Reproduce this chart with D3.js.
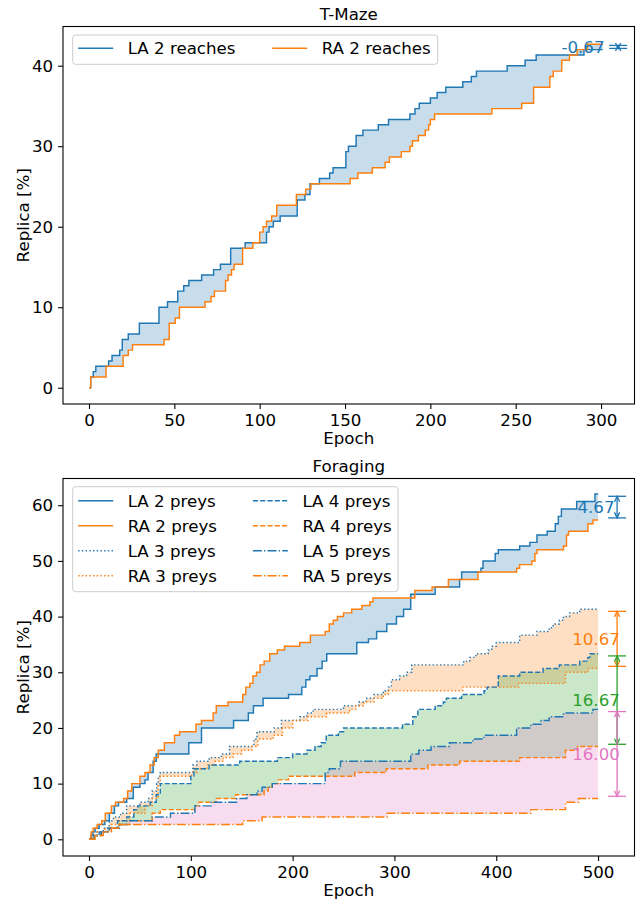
<!DOCTYPE html>
<html>
<head>
<meta charset="utf-8">
<script src="https://cdn.jsdelivr.net/npm/d3@7"></script>
<style>
  body { margin: 0; background: #fff; }
  svg text { font-family: "DejaVu Sans", sans-serif; font-size: 16.67px; fill: #000; }
</style>
</head>
<body>
<script>
// step breakpoints: [epoch, replica %]
var tmazeLA2 = [[0,0],[1,1.33],[2.5,2],[4,2.67],[11.5,3.33],[13.5,4],[18,4.67],[19.5,6],[23,6.67],[29.5,8],[41,10],[46,10.67],[52,12],[55.5,12.67],[58.5,13.33],[66,14],[73,14.67],[77,15.33],[83,17.33],[91.5,18],[104,19.33],[105.5,20],[108,20.67],[112,21.33],[122,23.33],[126.5,24],[129.5,25.33],[135,26],[141,26.67],[143,27.33],[150.5,29.33],[152,30],[156.5,31.33],[160.5,32],[169.5,32.67],[175.5,33.33],[188,34],[191,34.67],[193.5,35.33],[200,36],[204,36.67],[209,37.33],[219,38],[224,38.67],[227,39.33],[245,40],[255.5,40.67],[262,41.33],[290,42]];
var tmazeRA2 = [[0,0],[1,1.33],[10,2.67],[20,4],[23,4.67],[25.5,5.33],[44,6],[47,8],[50.5,8.67],[53,10],[68,10.67],[71.5,11.33],[73.5,12],[80,13.33],[81.5,14],[83.5,14.67],[85,15.33],[90,17.33],[96,18],[100,19.33],[102,20],[104,20.67],[107,21.33],[110,22.67],[121.5,24],[127,24.67],[130,25.33],[153,26],[157.5,26.67],[166,27.33],[173.5,28],[176,28.67],[183,29.33],[188,30],[189.5,30.67],[193,31.33],[197,32],[199,32.67],[200,33.33],[202.5,34],[236,34.67],[253.5,35.33],[260.5,37.33],[270,38.67],[272,39.33],[277,40.67],[281.5,41.33],[286,42],[292,42.67]];
var tmazeEnd = 301;

var forLA2 = [[0,0],[2,0.67],[4,1.33],[6,2],[10,2.67],[15.5,3.33],[20,4.67],[25,6],[29,6.67],[37,7.33],[43.5,9.33],[50,10],[55,10.67],[58,12],[63,14],[66,15.33],[98,17.33],[110.5,20],[142,21.33],[156.5,22.67],[161.5,24],[171,25.33],[196,26],[209,27.33],[213,28.67],[217,29.33],[224,30.67],[229,32],[233.5,33.33],[263,35.33],[274.5,36],[282.5,37.33],[292.5,38.67],[302,40],[309,41.33],[316,44],[340,45.33],[364,46.67],[366,48],[385,48.67],[387,50],[399,51.33],[402,52],[423,52.67],[433,53.33],[440,54.67],[450,55.33],[458,56.67],[461,58],[464,59.33],[479,60.67],[497,62]];
var forRA2 = [[0,0],[2,1.33],[4,2],[8,2.67],[12.5,3.33],[16,4.67],[22,6],[26,6.67],[34,7.33],[38,8.67],[42,10],[50,11.33],[55,12],[60,13.33],[64,14.67],[68,16],[74,17.33],[84,18.67],[89,19.33],[105,20.67],[110.5,21.33],[122,22.67],[125,24],[136.5,24.67],[151,26],[154,27.33],[158,28],[161,29.33],[164.5,30],[168,31.33],[172,32],[177.5,33.33],[185,34],[192,34.67],[207,35.33],[217.5,36.67],[232,37.33],[236,38.67],[240,39.33],[244,40],[250,40.67],[258,41.33],[268,42],[276,42.67],[279,43.33],[320,44.67],[337,45.33],[353,46.67],[382,48],[420,48.67],[423,49.33],[435,50],[438,51.33],[440,52],[466,52.67],[469,54.67],[471,55.33],[490,56.67],[495,57.33]];
var forLA3 = [[0,0],[3,0.67],[8,1.33],[14,2],[20,3.33],[24,4],[31,4.67],[37,6],[50,6.67],[58,7.33],[62,8.67],[66.5,10],[68,11.33],[70,12],[102,13.33],[106,14],[118,14.67],[130,15.33],[138,16.67],[162,18],[165,19.33],[182,20],[189,21.33],[207,22],[214,22.67],[220,23.33],[250,24],[265,24.67],[272,25.33],[280,26],[289,26.67],[294,27.33],[297,28.67],[305,29.33],[312,30],[317,31.33],[368,32],[374,32.67],[380,33.33],[392,34],[395.5,34.67],[400,35.33],[423,36.67],[440,37.33],[452,38],[456,38.67],[462,39.33],[466,40],[472,40.67],[482,41.33]];
var forRA3 = [[0,0],[3,0.67],[8,1.33],[16,2],[22,2.67],[30,3.33],[40,4.67],[55,6],[62,7.33],[68,10],[70,11.33],[101,12],[106,12.67],[116,13.33],[124,14],[132,14.67],[141.5,15.33],[150,16],[160,16.67],[166,18],[181,18.67],[190,20],[200,21.33],[215,22],[233.5,22.67],[256,23.33],[262,24],[270,24.67],[280,25.33],[289,26],[294,26.67],[367,27.33],[422,28],[468,30],[490,30.67]];
var forLA4 = [[0,0],[4,0.67],[10,1.33],[18,2],[28,3.33],[37,4],[44,5.33],[48,6],[60,6.67],[66,8],[70,10],[100,11.33],[103,12.67],[118,13.33],[148,14],[185,14.67],[200,15.33],[214,16],[222,16.67],[228,17.33],[233,18.67],[245,19.33],[250,20],[308,20.67],[318,22],[323,23.33],[340,24],[348,24.67],[351,25.33],[366,26],[388,26.67],[391,27.33],[402,29.33],[423,30],[446,30.67],[462,31.33],[482,32],[490,32.67],[492,33.33]];
var forRA4 = [[0,0],[5,0.67],[12,1.33],[20,2],[30,2.67],[40,3.33],[62,4.67],[70,5.33],[104,6],[108,6.67],[125,7.33],[144,8],[172,8.67],[176,9.33],[180,10],[186,10.67],[196,11.33],[261,12],[292,12.67],[333,13.33],[364,14],[423,14.67],[468,16],[480,16.67]];
var forLA5 = [[0,0],[5,0.67],[12,1.33],[20,2],[30,2.67],[37,3.33],[62,4],[80,4.67],[104,6],[120,6.67],[145,7.33],[155,8],[165,8.67],[170,9.33],[180,10],[232,12],[236,12.67],[247,14],[316,15.33],[324,16],[336,16.67],[354,17.33],[377,18],[388,18.67],[420,20],[434,20.67],[444,21.33],[452,22],[466,22.67],[495,23.33]];
var forRA5 = [[0,0],[6,0.67],[14,1.33],[22,2],[29,2.67],[151,3.33],[170,4],[293,4.67],[434,5.33],[468,6.67],[481,7.33]];
var forEnd = 500;

var tmazeXTicks = [0, 50, 100, 150, 200, 250, 300];
var tmazeYTicks = [0, 10, 20, 30, 40];
var forXTicks = [0, 100, 200, 300, 400, 500];
var forYTicks = [0, 10, 20, 30, 40, 50, 60];

var tmazeLabels = ["LA 2 reaches", "RA 2 reaches"];
var forLabels = ["LA 2 preys", "RA 2 preys", "LA 3 preys", "RA 3 preys", "LA 4 preys", "RA 4 preys", "LA 5 preys", "RA 5 preys"];
var tmazeDiffLabels = ["-0.67"];
var forDiffLabels = ["4.67", "10.67", "16.67", "16.00"];

var C0 = "#1f77b4", C1 = "#ff7f0e", C2 = "#2ca02c", C6 = "#e377c2";
var LW = 1.45;
var SOLID = null, DOT = "1.4,2.3", DASH = "5.1,2.2", DASHDOT = "8.9,2.2,1.4,2.2";

var svg = d3.select("body").append("svg")
    .attr("width", 641)
    .attr("height", 899);

function valueAt(s, e) {
    var v = s[0][1];
    for (var i = 0; i < s.length; i++) {
        if (s[i][0] <= e) v = s[i][1]; else break;
    }
    return v;
}

function withEnd(s, end) {
    return s.concat([[end, s[s.length - 1][1]]]);
}

function drawPanel(p) {
    var g = svg.append("g");
    var x = d3.scaleLinear().domain(p.xDomain).range([p.left, p.right]);
    var y = d3.scaleLinear().domain(p.yDomain).range([p.bottom, p.top]);

    // shaded gap between each LA / RA pair
    p.pairs.forEach(function(pr) {
        var xs = Array.from(new Set(pr.a.map(d => d[0]).concat(pr.b.map(d => d[0]), [p.end])))
            .sort((m, n) => m - n);
        var rows = xs.map(e => [e, valueAt(pr.a, e), valueAt(pr.b, e)]);
        g.append("path").datum(rows)
            .attr("d", d3.area().curve(d3.curveStepAfter)
                .x(d => x(d[0])).y0(d => y(d[1])).y1(d => y(d[2])))
            .attr("fill", pr.color)
            .attr("fill-opacity", 0.25)
            .attr("stroke", "none");
    });

    var line = d3.line().curve(d3.curveStepAfter).x(d => x(d[0])).y(d => y(d[1]));
    p.series.forEach(function(s) {
        g.append("path").datum(withEnd(s.data, p.end))
            .attr("d", line)
            .attr("fill", "none")
            .attr("stroke", s.color)
            .attr("stroke-width", LW)
            .attr("stroke-dasharray", s.dash);
    });

    // difference annotations at the right end
    p.pairs.forEach(function(pr, i) {
        var ax = x(p.annX), tx = x(p.annTextX);
        var va = pr.a[pr.a.length - 1][1], vb = pr.b[pr.b.length - 1][1];
        var ya = y(va), yb = y(vb);
        var s = (ya < yb ? 1 : -1) * p.shrink;
        var y1 = ya + s, y2 = yb - s;
        var ag = g.append("g").attr("stroke", pr.color).attr("stroke-width", 1.3).attr("fill", "none");
        ag.append("line").attr("x1", ax).attr("x2", ax).attr("y1", y1).attr("y2", y2);
        [y1, y2].forEach(function(yy) {
            ag.append("line").attr("x1", ax - 9).attr("x2", ax + 9).attr("y1", yy).attr("y2", yy);
        });
        var dir = y1 < y2 ? 1 : -1;
        ag.append("path").attr("d", "M" + (ax - 2.6) + "," + (y1 + dir * 5.5) + "L" + ax + "," + y1 + "L" + (ax + 2.6) + "," + (y1 + dir * 5.5));
        ag.append("path").attr("d", "M" + (ax - 2.6) + "," + (y2 - dir * 5.5) + "L" + ax + "," + y2 + "L" + (ax + 2.6) + "," + (y2 - dir * 5.5));
        g.append("text")
            .attr("x", tx)
            .attr("y", (ya + yb) / 2)
            .attr("dy", "0.36em")
            .attr("text-anchor", "middle")
            .style("fill", pr.color)
            .text(p.diffLabels[i]);
    });

    // axes
    var xa = g.append("g").attr("transform", "translate(0," + p.bottom + ")")
        .call(d3.axisBottom(x).tickValues(p.xTicks).tickSize(4.9).tickPadding(4.9).tickFormat(d3.format("d")));
    var ya2 = g.append("g").attr("transform", "translate(" + p.left + ",0)")
        .call(d3.axisLeft(y).tickValues(p.yTicks).tickSize(4.9).tickPadding(4.9).tickFormat(d3.format("d")));
    [xa, ya2].forEach(function(a) {
        a.select(".domain").remove();
        a.selectAll(".tick line").attr("stroke", "#000").attr("stroke-width", 1.1);
    });

    g.append("rect")
        .attr("x", p.left).attr("y", p.top)
        .attr("width", p.right - p.left).attr("height", p.bottom - p.top)
        .attr("fill", "none").attr("stroke", "#000").attr("stroke-width", 1.1);

    var cx = (p.left + p.right) / 2;
    g.append("text").attr("x", cx).attr("y", p.top - 7).attr("text-anchor", "middle").text(p.title);
    g.append("text").attr("x", cx).attr("y", p.bottom + 40).attr("text-anchor", "middle").text("Epoch");
    g.append("text")
        .attr("transform", "translate(29," + ((p.top + p.bottom) / 2) + ") rotate(-90)")
        .attr("text-anchor", "middle")
        .text("Replica [%]");

    // legend, filled column by column
    var lg = p.legend;
    g.append("rect")
        .attr("x", lg.x).attr("y", lg.y).attr("width", lg.w).attr("height", lg.h)
        .attr("rx", 3)
        .attr("fill", "#fff").attr("fill-opacity", 0.8)
        .attr("stroke", "#cccccc").attr("stroke-width", 1);
    p.series.forEach(function(s, i) {
        var col = Math.floor(i / lg.rows), row = i % lg.rows;
        var hx = lg.x + 5.5 + col * lg.colW, hy = lg.y + lg.firstRow + row * 25;
        g.append("line")
            .attr("x1", hx).attr("x2", hx + 35).attr("y1", hy).attr("y2", hy)
            .attr("stroke", s.color).attr("stroke-width", LW)
            .attr("stroke-dasharray", s.dash);
        g.append("text").attr("x", hx + 49.5).attr("y", hy).attr("dy", "0.36em").text(lg.labels[i]);
    });
}

drawPanel({
    left: 63, right: 634.5, top: 26.5, bottom: 404,
    xDomain: [-15.23, 319.6], yDomain: [-2.02, 44.87],
    xTicks: tmazeXTicks, yTicks: tmazeYTicks,
    title: "T-Maze", end: tmazeEnd,
    series: [
        {data: tmazeLA2, color: C0, dash: SOLID},
        {data: tmazeRA2, color: C1, dash: SOLID}
    ],
    pairs: [{a: tmazeLA2, b: tmazeRA2, color: C0}],
    diffLabels: tmazeDiffLabels,
    annX: 310, annTextX: 289.4, shrink: 1.2,
    legend: {x: 72.7, y: 35, w: 365, h: 29.3, firstRow: 13.2, rows: 1, colW: 194, labels: tmazeLabels}
});

drawPanel({
    left: 63, right: 634.5, top: 478.5, bottom: 856,
    xDomain: [-25.54, 535.8], yDomain: [-3.0, 64.8],
    xTicks: forXTicks, yTicks: forYTicks,
    title: "Foraging", end: forEnd,
    series: [
        {data: forLA2, color: C0, dash: SOLID},
        {data: forRA2, color: C1, dash: SOLID},
        {data: forLA3, color: C0, dash: DOT},
        {data: forRA3, color: C1, dash: DOT},
        {data: forLA4, color: C0, dash: DASH},
        {data: forRA4, color: C1, dash: DASH},
        {data: forLA5, color: C0, dash: DASHDOT},
        {data: forRA5, color: C1, dash: DASHDOT}
    ],
    pairs: [
        {a: forLA2, b: forRA2, color: C0},
        {a: forLA3, b: forRA3, color: C1},
        {a: forLA4, b: forRA4, color: C2},
        {a: forLA5, b: forRA5, color: C6}
    ],
    diffLabels: forDiffLabels,
    annX: 518.7, annTextX: 498, shrink: 2.2,
    legend: {x: 72.7, y: 486.7, w: 325.3, h: 105, firstRow: 14, rows: 4, colW: 174.7, labels: forLabels}
});
</script>
</body>
</html>
